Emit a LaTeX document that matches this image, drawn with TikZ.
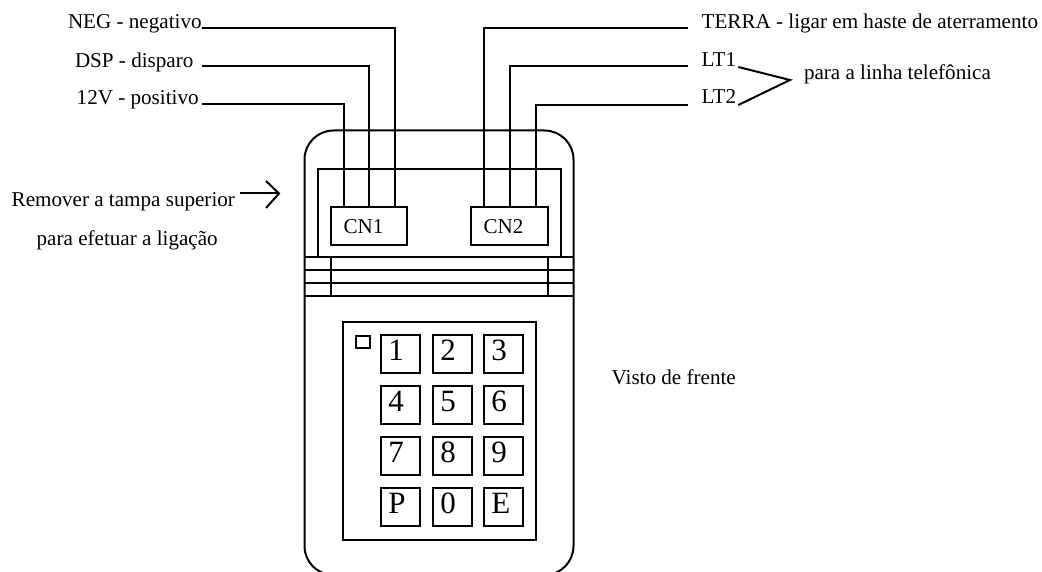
\documentclass[tikz,border=0pt]{standalone}
\usepackage{fontspec}
\setmainfont{Liberation Serif}
\newcommand\keytxt[1]{\makebox[39pt][l]{\hspace{7.9pt}#1}}
\newcommand\cntxt[2]{\makebox[#1pt][l]{\hspace{13pt}#2}}
\tikzset{
  x=1pt,y=-1pt,
  lw/.style={line width=2pt,line join=miter},
  lbl/.style={anchor=base west,inner sep=0pt,outer sep=0pt,font=\fontsize{21.1}{24}\selectfont},
  keybox/.style={lw,draw,inner sep=0pt,outer sep=0pt,text height=25.5pt,text depth=12.5pt,font=\fontsize{31}{32}\selectfont},
  cnbox/.style={lw,draw,inner sep=0pt,outer sep=0pt,text height=25.8pt,text depth=12.2pt,font=\fontsize{21.1}{24}\selectfont},
}
\begin{document}
\begin{tikzpicture}
\useasboundingbox[clip] (0,0) rectangle (1042,572);
% body
\draw[lw,rounded corners=29pt] (304.5,130.5) rectangle (573.5,575);
% inner cover
\draw[lw] (317.5,257.5) -- (317.5,169.5) -- (560.5,169.5) -- (560.5,257.5);
% bands
\foreach \yy in {257.5,270.5,283.5,296.5} \draw[lw] (304.5,\yy) -- (573.5,\yy);
\draw[lw] (330.5,257.5) -- (330.5,296.5);
\draw[lw] (547.5,257.5) -- (547.5,296.5);
% connectors
\node[cnbox] (CN1) at (368.5,226.5) {\cntxt{76}{CN1}};
\node[cnbox] (CN2) at (509,226.5) {\cntxt{77}{CN2}};
% labels
\node[lbl] (neg) at (68,29) {NEG - negativo};
\node[lbl] (dsp) at (75,67.5) {DSP - disparo};
\node[lbl] (pos) at (76.7,105) {12V - positivo};
\node[lbl] (terra) at (701.7,28.3) {TERRA - ligar em haste de aterramento};
\node[lbl] (lt1) at (701.7,67) {LT1};
\node[lbl] (lt2) at (701.7,104) {LT2};
\node[lbl] (linha) at (804,80) {para a linha telefônica};
\node[lbl] (rem) at (11.7,207) {Remover a tampa superior};
\node[lbl] (efet) at (36.7,245.6) {para efetuar a ligação};
\node[lbl] (visto) at (611.7,384.4) {Visto de frente};
% wire ends
\coordinate (wneg) at (202,28.5);
\coordinate (wdsp) at (202,66.5);
\coordinate (wpos) at (202,104.5);
\coordinate (wter) at (688,28.5);
\coordinate (wlt1) at (688,66.5);
\coordinate (wlt2) at (688,105.5);
\coordinate (p1) at (343.5,207.5);
\coordinate (p2) at (368.5,207.5);
\coordinate (p3) at (394.5,207.5);
\coordinate (p4) at (483.5,207.5);
\coordinate (p5) at (509.5,207.5);
\coordinate (p6) at (535.5,207.5);
\draw[lw] (wneg) -| (p3);
\draw[lw] (wdsp) -| (p2);
\draw[lw] (wpos) -| (p1);
\draw[lw] (wter) -| (p4);
\draw[lw] (wlt1) -| (p5);
\draw[lw] (wlt2) -| (p6);
% brace
\coordinate (bra) at (790,80);
\coordinate (b1) at (738.3,67);
\coordinate (b2) at (738.3,105);
\draw[lw] (b1) -- (bra) -- (b2);
% arrow
\coordinate (aa) at (240,193.5);
\coordinate (ab) at (279,193.5);
\draw[lw] (aa) -- (ab);
\draw[lw] (266,181) -- (ab) -- (266,208);
% keypad
\draw[lw] (342.5,321.5) rectangle (535.5,539.5);
\draw[lw] (355.5,335.5) rectangle (369.5,347.5);
\foreach \nn/\cx/\cy/\tt in {k1/400/353.5/1,k2/452/353.5/2,k3/503/353.5/3,
  k4/400/404.5/4,k5/452/404.5/5,k6/503/404.5/6,
  k7/400/455.5/7,k8/452/455.5/8,k9/503/455.5/9,
  kp/400/506.5/P,k0/452/506.5/0,ke/503/506.5/E}
  \node[keybox] (\nn) at (\cx,\cy) {\keytxt{\tt}};
\end{tikzpicture}
\end{document}
